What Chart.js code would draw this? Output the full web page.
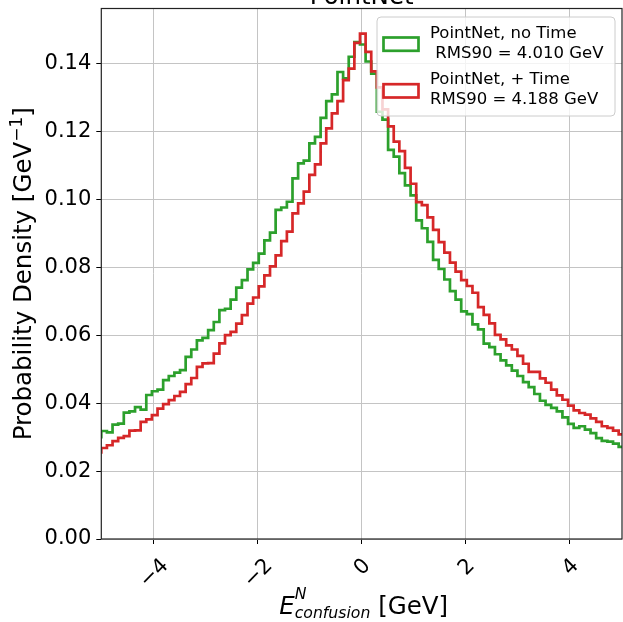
<!DOCTYPE html>
<html>
<head>
<meta charset="utf-8">
<title>PointNet</title>
<script src="https://cdn.jsdelivr.net/npm/chart.js@4.4.1/dist/chart.umd.min.js"></script>
<style>
  html, body { margin: 0; padding: 0; background: #fff; }
  #wrap { width: 623px; height: 622px; }
</style>
</head>
<body>
<div id="wrap"><canvas id="histChart" width="623" height="622"></canvas></div>
<script>
// Histogram bins: left edge of the first bin and the bin width (GeV)
const BIN_START = -5.108;
const BIN_WIDTH = 0.108;

// Probability density per bin
const noTime = [
    0.0300,
    0.0318, 0.0314, 0.0337, 0.0340, 0.0372, 0.0376, 0.0388, 0.0381, 0.0424, 0.0435,
    0.0440, 0.0468, 0.0480, 0.0490, 0.0497, 0.0536, 0.0558, 0.0585, 0.0592, 0.0615,
    0.0639, 0.0674, 0.0678, 0.0705, 0.0740, 0.0762, 0.0794, 0.0813, 0.0840, 0.0879,
    0.0902, 0.0969, 0.0976, 0.0993, 0.1062, 0.1106, 0.1114, 0.1165, 0.1184, 0.1240,
    0.1289, 0.1309, 0.1375, 0.1356, 0.1420, 0.1463, 0.1456, 0.1406, 0.1370, 0.1258,
    0.1235, 0.1146, 0.1126, 0.1077, 0.1041, 0.1012, 0.0938, 0.0915, 0.0875, 0.0822,
    0.0795, 0.0764, 0.0730, 0.0705, 0.0670, 0.0662, 0.0632, 0.0617, 0.0575, 0.0565,
    0.0544, 0.0526, 0.0511, 0.0496, 0.0480, 0.0462, 0.0447, 0.0427, 0.0407, 0.0395,
    0.0386, 0.0376, 0.0358, 0.0339, 0.0327, 0.0332, 0.0322, 0.0312, 0.0297, 0.0289,
    0.0287, 0.0281, 0.0271
];
const withTime = [
    0.0255,
    0.0268, 0.0276, 0.0288, 0.0298, 0.0303, 0.0319, 0.0320, 0.0345, 0.0352, 0.0365,
    0.0384, 0.0397, 0.0409, 0.0421, 0.0433, 0.0456, 0.0474, 0.0507, 0.0517, 0.0518,
    0.0546, 0.0576, 0.0600, 0.0610, 0.0634, 0.0659, 0.0693, 0.0711, 0.0744, 0.0776,
    0.0803, 0.0835, 0.0877, 0.0905, 0.0959, 0.0988, 0.1023, 0.1072, 0.1103, 0.1165,
    0.1209, 0.1253, 0.1289, 0.1351, 0.1385, 0.1461, 0.1488, 0.1434, 0.1377, 0.1330,
    0.1265, 0.1215, 0.1170, 0.1142, 0.1093, 0.1046, 0.0992, 0.0983, 0.0947, 0.0910,
    0.0874, 0.0843, 0.0814, 0.0787, 0.0762, 0.0745, 0.0725, 0.0683, 0.0660, 0.0635,
    0.0601, 0.0588, 0.0570, 0.0558, 0.0539, 0.0516, 0.0492, 0.0492, 0.0473, 0.0460,
    0.0440, 0.0423, 0.0410, 0.0393, 0.0379, 0.0371, 0.0366, 0.0355, 0.0345, 0.0332,
    0.0327, 0.0319, 0.0308
];

// Axis ticks
const xTicks = [-4, -2, 0, 2, 4];
const yTicks = [0, 0.02, 0.04, 0.06, 0.08, 0.10, 0.12, 0.14];

// Texts
const chartTitle = 'PointNet';
const legendEntries = [
    { lines: ['PointNet, no Time', ' RMS90 = 4.010 GeV'], color: '#2ca02c' },
    { lines: ['PointNet, + Time', 'RMS90 = 4.188 GeV'], color: '#d62728' }
];

const FONT = '"DejaVu Sans", sans-serif';
const TICK_SIZE = 21;

// Turn bin values into step points (last bin closed at its right edge)
function toSteps(values) {
    const pts = values.map((v, i) => ({ x: BIN_START + i * BIN_WIDTH, y: v }));
    pts.push({ x: BIN_START + values.length * BIN_WIDTH, y: values[values.length - 1] });
    return pts;
}

function fmtTick(v) {
    return v < 0 ? '\u2212' + Math.abs(v) : String(v);
}

// Rotated x tick labels, centred under the tick like matplotlib
function drawXTickLabels(chart) {
    const ctx = chart.ctx;
    const xs = chart.scales.x;
    const bottom = chart.chartArea.bottom;
    ctx.save();
    ctx.font = TICK_SIZE + 'px ' + FONT;
    ctx.fillStyle = '#000';
    ctx.textAlign = 'center';
    ctx.textBaseline = 'middle';
    xTicks.forEach(v => {
        const txt = fmtTick(v);
        const w = ctx.measureText(txt).width;
        const cx = xs.getPixelForValue(v) + 1;
        const cy = bottom + 15 + (w + 24.4) * 0.3536;
        ctx.save();
        ctx.translate(cx, cy);
        ctx.rotate(-Math.PI / 4);
        ctx.fillText(txt, 0, 0);
        ctx.restore();
    });
    ctx.restore();
}

// Axis titles with super/subscripts
function drawAxisTitles(chart) {
    const ctx = chart.ctx;
    const a = chart.chartArea;
    ctx.save();
    ctx.fillStyle = '#000';
    ctx.textAlign = 'left';
    ctx.textBaseline = 'alphabetic';

    // y title
    const base = 'Probability Density [GeV', sup = '\u22121', tail = ']';
    ctx.font = '24.5px ' + FONT;
    const w1 = ctx.measureText(base).width;
    const w3 = ctx.measureText(tail).width;
    ctx.font = '17px ' + FONT;
    const w2 = ctx.measureText(sup).width;
    ctx.save();
    ctx.translate(31, (a.top + a.bottom) / 2);
    ctx.rotate(-Math.PI / 2);
    let x = -(w1 + w2 + w3) / 2;
    ctx.font = '24.5px ' + FONT;
    ctx.fillText(base, x, 0);
    x += w1;
    ctx.font = '17px ' + FONT;
    ctx.fillText(sup, x, -9);
    x += w2;
    ctx.font = '24.5px ' + FONT;
    ctx.fillText(tail, x, 0);
    ctx.restore();

    // x title: E^N_confusion [GeV]
    ctx.font = 'italic 24.5px ' + FONT;
    const wE = ctx.measureText('E').width;
    ctx.font = 'italic 15.7px ' + FONT;
    const wN = ctx.measureText('N').width;
    const wSub = ctx.measureText('confusion').width;
    ctx.font = '24.5px ' + FONT;
    const wGeV = ctx.measureText(' [GeV]').width;
    const total = wE + Math.max(wN, wSub) + wGeV;
    let px = (a.left + a.right) / 2 + 2 - total / 2;
    const baseY = 613.7;
    ctx.font = 'italic 24.5px ' + FONT;
    ctx.fillText('E', px, baseY);
    px += wE;
    ctx.font = 'italic 15.7px ' + FONT;
    ctx.fillText('N', px, baseY - 15);
    ctx.fillText('confusion', px, baseY + 4);
    px += Math.max(wN, wSub);
    ctx.font = '24.5px ' + FONT;
    ctx.fillText(' [GeV]', px, baseY);
    ctx.restore();
}

function drawTitle(chart) {
    const ctx = chart.ctx;
    const a = chart.chartArea;
    ctx.save();
    ctx.font = '24.5px ' + FONT;
    ctx.fillStyle = '#000';
    ctx.textAlign = 'center';
    ctx.textBaseline = 'alphabetic';
    ctx.fillText(chartTitle, (a.left + a.right) / 2, 4);
    ctx.restore();
}

function roundedRect(ctx, x, y, w, h, r) {
    ctx.beginPath();
    ctx.moveTo(x + r, y);
    ctx.lineTo(x + w - r, y);
    ctx.arcTo(x + w, y, x + w, y + r, r);
    ctx.lineTo(x + w, y + h - r);
    ctx.arcTo(x + w, y + h, x + w - r, y + h, r);
    ctx.lineTo(x + r, y + h);
    ctx.arcTo(x, y + h, x, y + h - r, r);
    ctx.lineTo(x, y + r);
    ctx.arcTo(x, y, x + r, y, r);
    ctx.closePath();
}

// matplotlib-style legend in the upper right corner
function drawLegend(chart) {
    const ctx = chart.ctx;
    const a = chart.chartArea;
    const boxW = 238, boxH = 99;
    const bx = a.right - 7 - boxW;
    const by = a.top + 8.5;
    ctx.save();
    roundedRect(ctx, bx, by, boxW, boxH, 4);
    ctx.fillStyle = 'rgba(255,255,255,0.8)';
    ctx.fill();
    ctx.strokeStyle = '#cccccc';
    ctx.lineWidth = 1;
    ctx.stroke();

    ctx.font = '16.5px ' + FONT;
    ctx.fillStyle = '#000';
    ctx.textAlign = 'left';
    ctx.textBaseline = 'alphabetic';
    legendEntries.forEach((entry, i) => {
        const top = by + 21 + i * 46.7;
        ctx.strokeStyle = entry.color;
        ctx.lineWidth = 2.7;
        ctx.strokeRect(bx + 6.5, top - 0.5, 35, 13.3);
        entry.lines.forEach((line, j) => {
            ctx.fillText(line, bx + 53, top - 0.5 + j * 20);
        });
    });
    ctx.restore();
}

const decorPlugin = {
    id: 'decor',
    afterDatasetsDraw(chart) {
        const ctx = chart.ctx;
        const a = chart.chartArea;
        ctx.save();
        ctx.strokeStyle = '#222';
        ctx.lineWidth = 1.2;
        ctx.strokeRect(a.left, a.top, a.right - a.left, a.bottom - a.top);
        ctx.restore();
    },
    afterDraw(chart) {
        drawXTickLabels(chart);
        drawAxisTitles(chart);
        drawTitle(chart);
        drawLegend(chart);
    }
};

const gridStyle = { color: '#c4c4c4', lineWidth: 1, tickColor: '#000', tickLength: 5, drawTicks: true };

new Chart(document.getElementById('histChart'), {
    type: 'line',
    data: {
        datasets: [
            {
                label: 'PointNet, + Time',
                data: toSteps(withTime),
                borderColor: '#d62728',
                borderWidth: 2.7,
                stepped: 'before',
                pointRadius: 0,
                fill: false,
                order: 0
            },
            {
                label: 'PointNet, no Time',
                data: toSteps(noTime),
                borderColor: '#2ca02c',
                borderWidth: 2.7,
                stepped: 'before',
                pointRadius: 0,
                fill: false,
                order: 1
            }
        ]
    },
    options: {
        responsive: false,
        animation: false,
        layout: { padding: { top: 8.5, right: 1, left: 0, bottom: 0 } },
        plugins: {
            legend: { display: false },
            tooltip: { enabled: false },
            title: { display: false }
        },
        scales: {
            x: {
                type: 'linear',
                min: -5,
                max: 5,
                afterBuildTicks: s => { s.ticks = xTicks.map(v => ({ value: v })); },
                afterFit: s => { s.height = 83; s.paddingLeft = 0; s.paddingRight = 0; },
                ticks: { display: false },
                grid: gridStyle,
                border: { display: false }
            },
            y: {
                type: 'linear',
                min: 0,
                max: 0.1562,
                afterBuildTicks: s => { s.ticks = yTicks.map(v => ({ value: v })); },
                afterFit: s => { s.width = 101.3; s.paddingTop = 0; s.paddingBottom = 0; },
                ticks: {
                    callback: v => v.toFixed(2),
                    font: { family: FONT, size: TICK_SIZE },
                    color: '#000',
                    padding: 5
                },
                grid: gridStyle,
                border: { display: false }
            }
        }
    },
    plugins: [decorPlugin]
});
</script>
</body>
</html>
